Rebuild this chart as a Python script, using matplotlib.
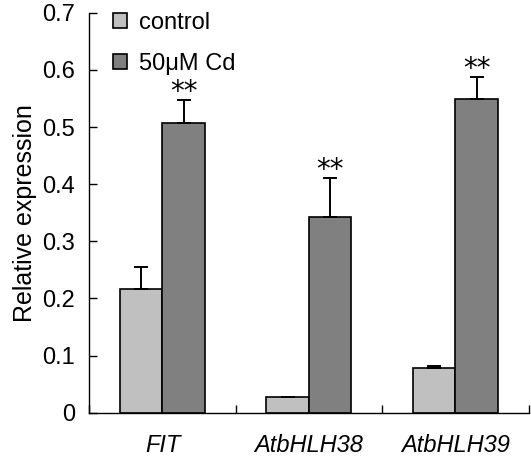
import matplotlib.pyplot as plt
import numpy as np

plt.rcParams['font.family'] = ['Liberation Sans', 'DejaVu Sans']

genes = ["FIT", "AtbHLH38", "AtbHLH39"]
control = [0.216, 0.028, 0.078]
control_err = [0.039, 0.0, 0.003]
cadmium = [0.507, 0.342, 0.549]
cadmium_err = [0.041, 0.068, 0.039]
stars = ["**", "**", "**"]

x = np.arange(len(genes))
w = 0.29

fig = plt.figure(figsize=(5.31, 4.57), dpi=100)
ax = fig.add_axes([0.168, 0.097, 0.8277, 0.875])

ekw = dict(elinewidth=1.4, capthick=1.4, ecolor="black")
ax.bar(x - w / 2, control, w, color="#c0c0c0", edgecolor="black", linewidth=1.2,
       yerr=[np.zeros(3), control_err], capsize=5, error_kw=ekw, label="control")
ax.bar(x + w / 2, cadmium, w, color="#808080", edgecolor="black", linewidth=1.2,
       yerr=[np.zeros(3), cadmium_err], capsize=5, error_kw=ekw, label="50μM Cd")

# significance marks above the Cd error bars
for xi, v, e, s in zip(x, cadmium, cadmium_err, stars):
    ax.annotate(s, (xi + w / 2, v + e), xytext=(0, 0), textcoords="offset points",
                ha="center", va="baseline", fontsize=20, family="DejaVu Sans")

ax.set_xlim(-0.5, 2.5)
ax.set_ylim(0, 0.7)
ax.set_yticks(np.arange(0, 0.71, 0.1))
ax.set_yticklabels(["0", "0.1", "0.2", "0.3", "0.4", "0.5", "0.6", "0.7"])
ax.set_xticks(x)
ax.set_xticklabels(genes, style="italic")
ax.set_xticks([-0.5, 0.5, 1.5, 2.5], minor=True)
ax.tick_params(axis="x", which="major", length=0, labelsize=17, pad=15)
ax.tick_params(axis="x", which="minor", direction="in", length=6, width=1)
ax.tick_params(axis="y", direction="in", length=6, width=1, labelsize=17, pad=10)
ax.set_ylabel("Relative expression", fontsize=18, labelpad=4)

for side in ["top", "right"]:
    ax.spines[side].set_visible(False)
ax.spines["left"].set_linewidth(1)
ax.spines["bottom"].set_linewidth(1)

ax.legend(loc="upper left", bbox_to_anchor=(0.005, 1.055), frameon=False, fontsize=17,
          handlelength=0.6, handleheight=0.6, handletextpad=0.5, labelspacing=0.8)

fig.savefig("out.png", dpi=100)
